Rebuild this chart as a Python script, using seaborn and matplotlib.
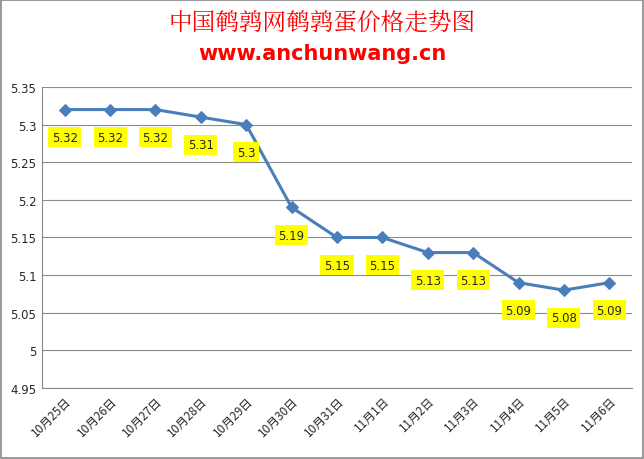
import matplotlib
matplotlib.use("Agg")
import matplotlib.pyplot as plt
import seaborn as sns
import pandas as pd
from matplotlib.patches import Rectangle

dates = ["10月25日","10月26日","10月27日","10月28日","10月29日","10月30日","10月31日",
         "11月1日","11月2日","11月3日","11月4日","11月5日","11月6日"]
prices = [5.32,5.32,5.32,5.31,5.30,5.19,5.15,5.15,5.13,5.13,5.09,5.08,5.09]
labels = ["5.32","5.32","5.32","5.31","5.3","5.19","5.15","5.15","5.13","5.13","5.09","5.08","5.09"]
yticks = [4.95,5,5.05,5.1,5.15,5.2,5.25,5.3,5.35]

sns.set_style("white")
plt.rcParams['font.family'] = ['Noto Sans CJK SC', 'DejaVu Sans']

fig = plt.figure(figsize=(6.44,4.60), dpi=100)
fig.patches.append(Rectangle((0.002,0.002),0.996,0.996,transform=fig.transFigure,
                             fill=False,edgecolor='#888888',lw=1.2))
ax = fig.add_axes([42/644, 1-389/460, 590/644, 301/460])
df = pd.DataFrame({"x": range(len(dates)), "y": prices})
sns.lineplot(data=df, x="x", y="y", ax=ax, color="#4a7ebb", lw=2.2,
             marker="D", markersize=6, markeredgecolor="#4a7ebb")
for i,(p,l) in enumerate(zip(prices,labels)):
    ax.annotate(l, (i,p), xytext=(0,-20), textcoords="offset points", ha="center", va="center",
                fontsize=8.5, family="DejaVu Sans",
                bbox=dict(boxstyle="square,pad=0.3", fc="#ffff00", ec="none"))
ax.set_xlim(-0.5, len(dates)-0.5)
ax.set_ylim(4.95, 5.35)
ax.set_yticks(yticks)
ax.set_yticklabels([f"{v:g}" for v in yticks], fontsize=8.5, family="DejaVu Sans")
ax.set_xticks(range(len(dates)))
ax.set_xticklabels(dates, rotation=45, ha="right", rotation_mode="anchor", fontsize=8.5)
ax.tick_params(axis='both', length=0, pad=4)
ax.yaxis.grid(True, color="#8c8c8c", lw=0.8)
for s in ["top","right"]:
    ax.spines[s].set_visible(False)
for s in ["left","bottom"]:
    ax.spines[s].set_color("#888888")
ax.set_xlabel(""); ax.set_ylabel("")
fig.text(0.5, 1-22/460, "中国鹌鹑网鹌鹑蛋价格走势图", ha="center", va="center",
         color="#ff0000", fontsize=17, family=["Noto Serif CJK SC","Noto Sans CJK SC"])
fig.text(0.5, 1-54/460, "www.anchunwang.cn", ha="center", va="center",
         color="#ff0000", fontsize=15, fontweight="bold", family="DejaVu Sans")
fig.savefig("out.png", dpi=100)
